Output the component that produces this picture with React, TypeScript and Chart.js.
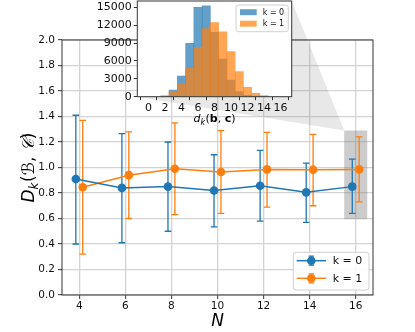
import React, { useEffect, useRef } from "react";
import Chart from "chart.js/auto";

// ---------- data ----------
const N_VALUES = [4, 6, 8, 10, 12, 14, 16];
const X_TICKS = [4, 6, 8, 10, 12, 14, 16];
const Y_TICKS = [0, 0.2, 0.4, 0.6, 0.8, 1.0, 1.2, 1.4, 1.6, 1.8, 2.0];

const MEAN_K0 = [0.91, 0.84, 0.85, 0.82, 0.857, 0.805, 0.85];
const LOW_K0 = [0.4, 0.41, 0.5, 0.535, 0.58, 0.57, 0.64];
const HIGH_K0 = [1.41, 1.265, 1.2, 1.1, 1.135, 1.035, 1.065];

const MEAN_K1 = [0.845, 0.94, 0.99, 0.965, 0.985, 0.983, 0.985];
const LOW_K1 = [0.32, 0.6, 0.63, 0.64, 0.69, 0.7, 0.73];
const HIGH_K1 = [1.37, 1.28, 1.35, 1.29, 1.275, 1.26, 1.24];

const SERIES_LABELS = ["k = 0", "k = 1"];

const HIST_BINS = [2, 3, 4, 5, 6, 7, 8, 9, 10, 11, 12, 13, 14];
const HIST_K0 = [50, 1120, 3470, 8960, 15000, 15220, 10800, 6300, 2800, 850, 220, 30, 0];
const HIST_K1 = [150, 900, 2130, 4760, 8280, 11420, 12430, 10860, 7560, 4200, 1570, 560, 170];
const HIST_X_TICKS = [0, 2, 4, 6, 8, 10, 12, 14, 16];
const HIST_Y_TICKS = [0, 3000, 6000, 9000, 12000, 15000];

const ZOOM_X = [15.5, 16.5];
const ZOOM_Y = [0.595, 1.29];

// ---------- style ----------
const BLUE = "#1f77b4";
const ORANGE = "#ff7f0e";
const FONT = "DejaVu Sans";
const DX = 0.15;

// inset placement on the page
const INSET_CANVAS = { left: 80, top: 0, width: 220, height: 130 };
const INSET_AREA = { left: 137.3, top: 1, right: 291.7, bottom: 96.7 };

function drawPieces(ctx: CanvasRenderingContext2D, pieces: any[], cx: number, baseY: number) {
  let total = 0;
  for (const p of pieces) {
    ctx.font = p.font;
    p.w = ctx.measureText(p.t).width + (p.extra || 0);
    total += p.w;
  }
  let x = cx - total / 2;
  ctx.textAlign = "left";
  ctx.textBaseline = "alphabetic";
  for (const p of pieces) {
    ctx.font = p.font;
    ctx.fillText(p.t, x, baseY + (p.dy || 0));
    x += p.w;
  }
}

export default function App() {
  const mainRef = useRef<HTMLCanvasElement>(null);
  const insetRef = useRef<HTMLCanvasElement>(null);

  useEffect(() => {
    const tickFont = { family: FONT, size: 10.5 };

    const mainPlugin = {
      id: "mainDecor",
      beforeDatasetsDraw(chart: any) {
        const { ctx } = chart;
        const x = chart.scales.x;
        const y = chart.scales.y;
        ctx.save();
        // zoom connector shading
        const rx = x.getPixelForValue(ZOOM_X[0]);
        const ry = y.getPixelForValue(ZOOM_Y[1]);
        ctx.fillStyle = "rgba(128,128,128,0.18)";
        ctx.beginPath();
        ctx.moveTo(INSET_AREA.left, INSET_AREA.bottom);
        ctx.lineTo(INSET_AREA.right, INSET_AREA.top);
        ctx.lineTo(rx, ry);
        ctx.closePath();
        ctx.fill();
        // zoom rectangle
        const x0 = x.getPixelForValue(ZOOM_X[0]);
        const x1 = x.getPixelForValue(ZOOM_X[1]);
        const y0 = y.getPixelForValue(ZOOM_Y[0]);
        const y1 = y.getPixelForValue(ZOOM_Y[1]);
        ctx.fillStyle = "rgba(128,128,128,0.4)";
        ctx.fillRect(x0, y1, x1 - x0, y0 - y1);
        // error bars
        const series = [
          { lo: LOW_K0, hi: HIGH_K0, off: -DX, color: BLUE },
          { lo: LOW_K1, hi: HIGH_K1, off: DX, color: ORANGE },
        ];
        ctx.lineWidth = 1.3;
        for (const s of series) {
          ctx.strokeStyle = s.color;
          N_VALUES.forEach((n, i) => {
            const px = x.getPixelForValue(n + s.off);
            const pl = y.getPixelForValue(s.lo[i]);
            const ph = y.getPixelForValue(s.hi[i]);
            ctx.beginPath();
            ctx.moveTo(px, pl);
            ctx.lineTo(px, ph);
            ctx.moveTo(px - 3.3, pl);
            ctx.lineTo(px + 3.3, pl);
            ctx.moveTo(px - 3.3, ph);
            ctx.lineTo(px + 3.3, ph);
            ctx.stroke();
          });
        }
        ctx.restore();
      },
      afterDraw(chart: any) {
        const { ctx, chartArea: a } = chart;
        ctx.save();
        // frame
        ctx.strokeStyle = "#333";
        ctx.lineWidth = 1;
        ctx.strokeRect(a.left, a.top, a.right - a.left, a.bottom - a.top);
        ctx.fillStyle = "#000";
        // x label
        drawPieces(ctx, [{ t: "N", font: `italic 17px "${FONT}"` }], (a.left + a.right) / 2, 326);
        // y label
        ctx.translate(34, (a.top + a.bottom) / 2);
        ctx.rotate(-Math.PI / 2);
        drawPieces(
          ctx,
          [
            { t: "D", font: `italic 17px "${FONT}"` },
            { t: "k", font: `italic 12px "${FONT}"`, dy: 3.5, extra: 0.5 },
            { t: "(", font: `17px "${FONT}"` },
            { t: "ℬ", font: `italic 17px "${FONT}"` },
            { t: ", ", font: `17px "${FONT}"` },
            { t: "𝒞", font: `italic 17px "${FONT}"` },
            { t: ")", font: `17px "${FONT}"` },
          ],
          0,
          0
        );
        ctx.setTransform(1, 0, 0, 1, 0, 0);
        // legend
        const L = { left: 293.3, top: 252.3, right: 369, bottom: 290 };
        ctx.fillStyle = "rgba(255,255,255,0.85)";
        ctx.strokeStyle = "#d0d0d0";
        ctx.lineWidth = 1;
        ctx.beginPath();
        (ctx as any).roundRect(L.left, L.top, L.right - L.left, L.bottom - L.top, 3);
        ctx.fill();
        ctx.stroke();
        const rows = [
          { y: 260.7, color: BLUE, label: SERIES_LABELS[0] },
          { y: 278.3, color: ORANGE, label: SERIES_LABELS[1] },
        ];
        for (const r of rows) {
          ctx.strokeStyle = r.color;
          ctx.fillStyle = r.color;
          ctx.lineWidth = 1.5;
          ctx.beginPath();
          ctx.moveTo(296.7, r.y);
          ctx.lineTo(326, r.y);
          ctx.stroke();
          ctx.lineWidth = 1.3;
          ctx.beginPath();
          ctx.moveTo(311.3, r.y - 4.5);
          ctx.lineTo(311.3, r.y + 4.5);
          ctx.moveTo(308.5, r.y - 4.5);
          ctx.lineTo(314.1, r.y - 4.5);
          ctx.moveTo(308.5, r.y + 4.5);
          ctx.lineTo(314.1, r.y + 4.5);
          ctx.stroke();
          ctx.beginPath();
          ctx.arc(311.3, r.y, 4.3, 0, Math.PI * 2);
          ctx.fill();
          ctx.fillStyle = "#111";
          ctx.font = `11px "${FONT}"`;
          ctx.textAlign = "left";
          ctx.textBaseline = "middle";
          ctx.fillText(r.label, 332.7, r.y + 0.5);
        }
        ctx.restore();
      },
    };

    const mainChart = new Chart(mainRef.current as HTMLCanvasElement, {
      type: "line",
      data: {
        datasets: [
          {
            label: SERIES_LABELS[0],
            data: N_VALUES.map((n, i) => ({ x: n - DX, y: MEAN_K0[i] })),
            borderColor: BLUE,
            backgroundColor: BLUE,
            borderWidth: 1.5,
            pointRadius: 4.3,
            pointBorderWidth: 0,
            pointBackgroundColor: BLUE,
          },
          {
            label: SERIES_LABELS[1],
            data: N_VALUES.map((n, i) => ({ x: n + DX, y: MEAN_K1[i] })),
            borderColor: ORANGE,
            backgroundColor: ORANGE,
            borderWidth: 1.5,
            pointRadius: 4.3,
            pointBorderWidth: 0,
            pointBackgroundColor: ORANGE,
          },
        ],
      },
      options: {
        responsive: false,
        animation: false,
        devicePixelRatio: 1,
        layout: { padding: { left: 0, top: 40, right: 42, bottom: 0 } },
        plugins: { legend: { display: false }, tooltip: { enabled: false } },
        scales: {
          x: {
            type: "linear",
            min: 3.25,
            max: 16.75,
            afterBuildTicks: (s: any) => {
              s.ticks = X_TICKS.map((v) => ({ value: v }));
            },
            afterFit: (s: any) => {
              s.height = 37;
              s.paddingLeft = 0;
              s.paddingRight = 0;
            },
            ticks: { font: tickFont, color: "#111", padding: 1, maxRotation: 0, autoSkip: false, callback: (v: any) => String(v) },
            grid: { color: "#d4d4d4", lineWidth: 1.3, tickColor: "#333", tickLength: 4, tickWidth: 1 },
            border: { display: false },
          },
          y: {
            type: "linear",
            min: 0,
            max: 2,
            afterBuildTicks: (s: any) => {
              s.ticks = Y_TICKS.map((v) => ({ value: v }));
            },
            afterFit: (s: any) => {
              s.width = 62;
              s.paddingTop = 0;
              s.paddingBottom = 0;
            },
            ticks: { font: tickFont, color: "#111", padding: 3, autoSkip: false, callback: (v: any) => Number(v).toFixed(1) },
            grid: { color: "#d4d4d4", lineWidth: 1.3, tickColor: "#333", tickLength: 4, tickWidth: 1 },
            border: { display: false },
          },
        },
      },
      plugins: [mainPlugin],
    } as any);

    // ---------- inset ----------
    const ia = {
      left: INSET_AREA.left - INSET_CANVAS.left,
      top: INSET_AREA.top - INSET_CANVAS.top,
      right: INSET_AREA.right - INSET_CANVAS.left,
      bottom: INSET_AREA.bottom - INSET_CANVAS.top,
    };
    const insetPlugin = {
      id: "insetDecor",
      beforeDraw(chart: any) {
        const { ctx, chartArea: a } = chart;
        ctx.save();
        ctx.fillStyle = "#fff";
        ctx.fillRect(a.left, a.top, a.right - a.left, a.bottom - a.top);
        ctx.restore();
      },
      afterDraw(chart: any) {
        const { ctx, chartArea: a } = chart;
        ctx.save();
        ctx.strokeStyle = "#333";
        ctx.lineWidth = 1;
        ctx.strokeRect(a.left, a.top, a.right - a.left, a.bottom - a.top);
        // x label d_k(b, c)
        ctx.fillStyle = "#000";
        drawPieces(
          ctx,
          [
            { t: "d", font: `italic 11px "${FONT}"` },
            { t: "k", font: `italic 8px "${FONT}"`, dy: 2.5, extra: 0.5 },
            { t: "(", font: `11px "${FONT}"` },
            { t: "b", font: `bold 11px "${FONT}"` },
            { t: ", ", font: `11px "${FONT}"` },
            { t: "c", font: `bold 11px "${FONT}"` },
            { t: ")", font: `11px "${FONT}"` },
          ],
          (a.left + a.right) / 2,
          122
        );
        // legend
        const L = { left: 156, top: 5, right: 208.3, bottom: 31.7 };
        ctx.fillStyle = "rgba(255,255,255,0.85)";
        ctx.strokeStyle = "#d0d0d0";
        ctx.beginPath();
        (ctx as any).roundRect(L.left, L.top, L.right - L.left, L.bottom - L.top, 2.5);
        ctx.fill();
        ctx.stroke();
        const rows = [
          { y: 12.2, color: "rgba(31,119,180,0.7)", label: SERIES_LABELS[0] },
          { y: 23.7, color: "rgba(255,127,14,0.7)", label: SERIES_LABELS[1] },
        ];
        for (const r of rows) {
          ctx.fillStyle = r.color;
          ctx.fillRect(160, r.y - 3, 16.7, 6);
          ctx.fillStyle = "#111";
          ctx.font = `8px "${FONT}"`;
          ctx.textAlign = "left";
          ctx.textBaseline = "middle";
          ctx.fillText(r.label, 182.7, r.y + 0.5);
        }
        ctx.restore();
      },
    };

    const insetChart = new Chart(insetRef.current as HTMLCanvasElement, {
      type: "bar",
      data: {
        datasets: [
          {
            label: SERIES_LABELS[0],
            data: HIST_BINS.map((b, i) => ({ x: b, y: HIST_K0[i] })),
            backgroundColor: "rgba(31,119,180,0.7)",
            borderWidth: 0,
            barPercentage: 1,
            categoryPercentage: 1,
            grouped: false,
            order: 1,
          },
          {
            label: SERIES_LABELS[1],
            data: HIST_BINS.map((b, i) => ({ x: b, y: HIST_K1[i] })),
            backgroundColor: "rgba(255,127,14,0.7)",
            borderWidth: 0,
            barPercentage: 1,
            categoryPercentage: 1,
            grouped: false,
            order: 0,
          },
        ],
      },
      options: {
        responsive: false,
        animation: false,
        devicePixelRatio: 1,
        layout: {
          padding: { left: 0, top: ia.top, right: INSET_CANVAS.width - ia.right, bottom: 0 },
        },
        plugins: { legend: { display: false }, tooltip: { enabled: false } },
        scales: {
          x: {
            type: "linear",
            offset: false,
            min: -1.35,
            max: 17.35,
            afterBuildTicks: (s: any) => {
              s.ticks = HIST_X_TICKS.map((v) => ({ value: v }));
            },
            afterFit: (s: any) => {
              s.height = INSET_CANVAS.height - ia.bottom;
              s.paddingLeft = 0;
              s.paddingRight = 0;
            },
            ticks: { font: { family: FONT, size: 11 }, color: "#111", padding: 1, maxRotation: 0, autoSkip: false, callback: (v: any) => String(v) },
            grid: { drawOnChartArea: false, tickColor: "#333", tickLength: 3.5, tickWidth: 1 },
            border: { display: false },
          },
          y: {
            type: "linear",
            min: 0,
            max: 16050,
            afterBuildTicks: (s: any) => {
              s.ticks = HIST_Y_TICKS.map((v) => ({ value: v }));
            },
            afterFit: (s: any) => {
              s.width = ia.left;
              s.paddingTop = 0;
              s.paddingBottom = 0;
            },
            ticks: { font: { family: FONT, size: 11 }, color: "#111", padding: 2, autoSkip: false, callback: (v: any) => String(v) },
            grid: { drawOnChartArea: false, tickColor: "#333", tickLength: 3.5, tickWidth: 1 },
            border: { display: false },
          },
        },
      },
      plugins: [insetPlugin],
    } as any);

    return () => {
      mainChart.destroy();
      insetChart.destroy();
    };
  }, []);

  return (
    <div style={{ position: "fixed", left: 0, top: 0, width: 415, height: 332, background: "#fff" }}>
      <canvas
        ref={mainRef}
        width={415}
        height={332}
        style={{ position: "absolute", left: 0, top: 0, width: 415, height: 332 }}
      />
      <canvas
        ref={insetRef}
        width={INSET_CANVAS.width}
        height={INSET_CANVAS.height}
        style={{
          position: "absolute",
          left: INSET_CANVAS.left,
          top: INSET_CANVAS.top,
          width: INSET_CANVAS.width,
          height: INSET_CANVAS.height,
        }}
      />
    </div>
  );
}
